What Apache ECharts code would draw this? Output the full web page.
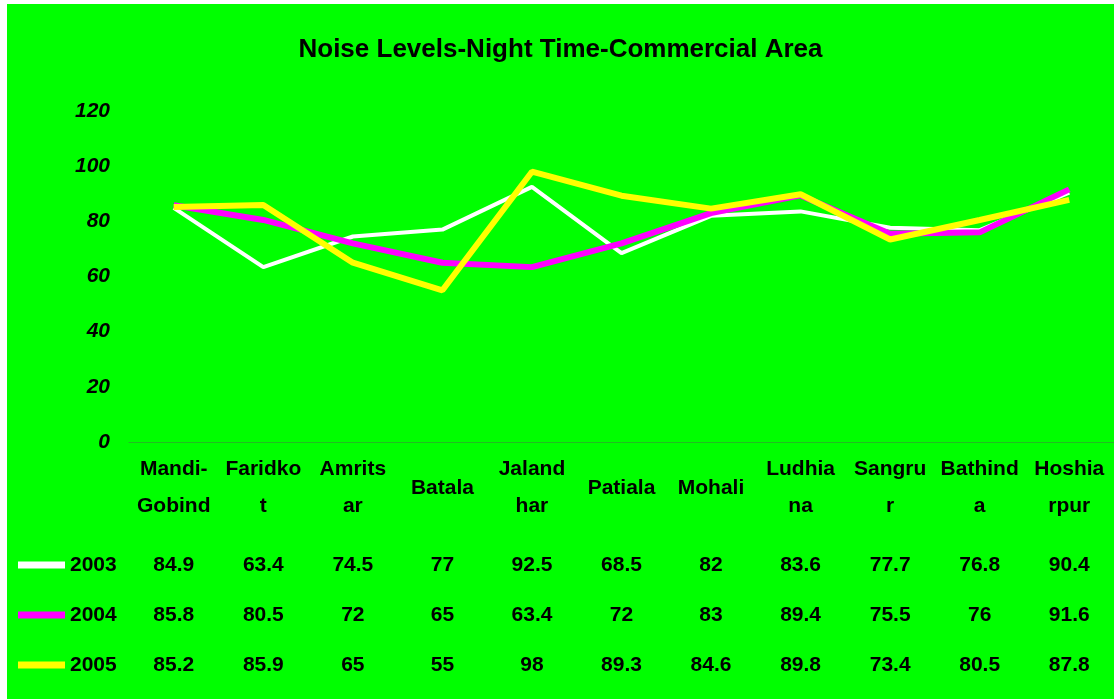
<!DOCTYPE html>
<html><head><meta charset="utf-8">
<script src="https://cdn.jsdelivr.net/npm/echarts@6/dist/echarts.min.js"></script>
<style>
html,body{margin:0;padding:0;background:#fff;width:1114px;height:699px;overflow:hidden}
#c{position:absolute;left:7px;top:4px;width:1107px;height:695px}
</style></head><body>
<div id="c"></div>
<script>
const categories = ['Mandi-\nGobind','Faridko\nt','Amrits\nar','Batala','Jaland\nhar','Patiala','Mohali','Ludhia\nna','Sangru\nr','Bathind\na','Hoshia\nrpur'];
const years = ['2003','2004','2005'];
const v2003 = [84.9,63.4,74.5,77,92.5,68.5,82,83.6,77.7,76.8,90.4];
const v2004 = [85.8,80.5,72,65,63.4,72,83,89.4,75.5,76,91.6];
const v2005 = [85.2,85.9,65,55,98,89.3,84.6,89.8,73.4,80.5,87.8];
const yTicks = [0,20,40,60,80,100,120];

const FONT = '"Liberation Sans",Arial,sans-serif';
const rows = [v2003, v2004, v2005];
const chart = echarts.init(document.getElementById('c'));
chart.setOption({
  backgroundColor: '#00FF00',
  animation: false,
  title: {
    text: 'Noise Levels-Night Time-Commercial Area',
    left: 'center', top: 28,
    textStyle: {fontFamily: FONT, fontWeight: 'bold', fontSize: 26, color: '#000'}
  },
  legend: {
    orient: 'vertical', left: 11, top: 549, itemGap: 26, padding: 0,
    icon: 'rect', itemWidth: 47, itemHeight: 7,
    data: years,
    textStyle: {fontFamily: FONT, fontWeight: 'bold', fontSize: 21, lineHeight: 24, color: '#000'}
  },
  grid: {left: 122, top: 107, width: 989, height: 331, containLabel: false},
  xAxis: {
    type: 'category', data: categories, boundaryGap: true,
    axisLine: {show: true, lineStyle: {color: '#22BB22', width: 1}},
    axisTick: {show: false},
    axisLabel: {
      interval: 0, margin: 9, color: '#000',
      fontFamily: FONT, fontWeight: 'bold', fontSize: 21,
      formatter: function (value, idx) {
        const parts = value.split('\n');
        let s = parts.length === 1 ? '{n1|' + parts[0] + '}' : parts.map(p => '{n|' + p + '}').join('\n');
        s += '\n{g| }';
        rows.forEach(r => { s += '\n{v|' + r[idx] + '}'; });
        return s;
      },
      rich: {
        n: {fontFamily: FONT, fontWeight: 'bold', fontSize: 21, lineHeight: 37, color: '#000', align: 'center'},
        n1: {fontFamily: FONT, fontWeight: 'bold', fontSize: 21, lineHeight: 74, color: '#000', align: 'center'},
        g: {fontSize: 4, lineHeight: 15.5},
        v: {fontFamily: FONT, fontWeight: 'bold', fontSize: 21, lineHeight: 50, color: '#000', align: 'center'}
      }
    }
  },
  yAxis: {
    type: 'value', min: yTicks[0], max: yTicks[yTicks.length - 1], interval: 20,
    axisLine: {show: false}, axisTick: {show: false}, splitLine: {show: false},
    axisLabel: {margin: 19, color: '#000', fontFamily: FONT, fontWeight: 'bold', fontStyle: 'italic', fontSize: 21}
  },
  series: [
    {name: years[0], type: 'line', data: v2003, showSymbol: false, symbol: 'none', lineStyle: {color: '#FFFFFF', width: 4}, itemStyle: {color: '#FFFFFF'}},
    {name: years[1], type: 'line', data: v2004, showSymbol: false, symbol: 'none', lineStyle: {color: '#FF00FF', width: 6}, itemStyle: {color: '#FF00FF'}},
    {name: years[2], type: 'line', data: v2005, showSymbol: false, symbol: 'none', lineStyle: {color: '#FFFF00', width: 6}, itemStyle: {color: '#FFFF00'}}
  ]
});
</script>
</body></html>
